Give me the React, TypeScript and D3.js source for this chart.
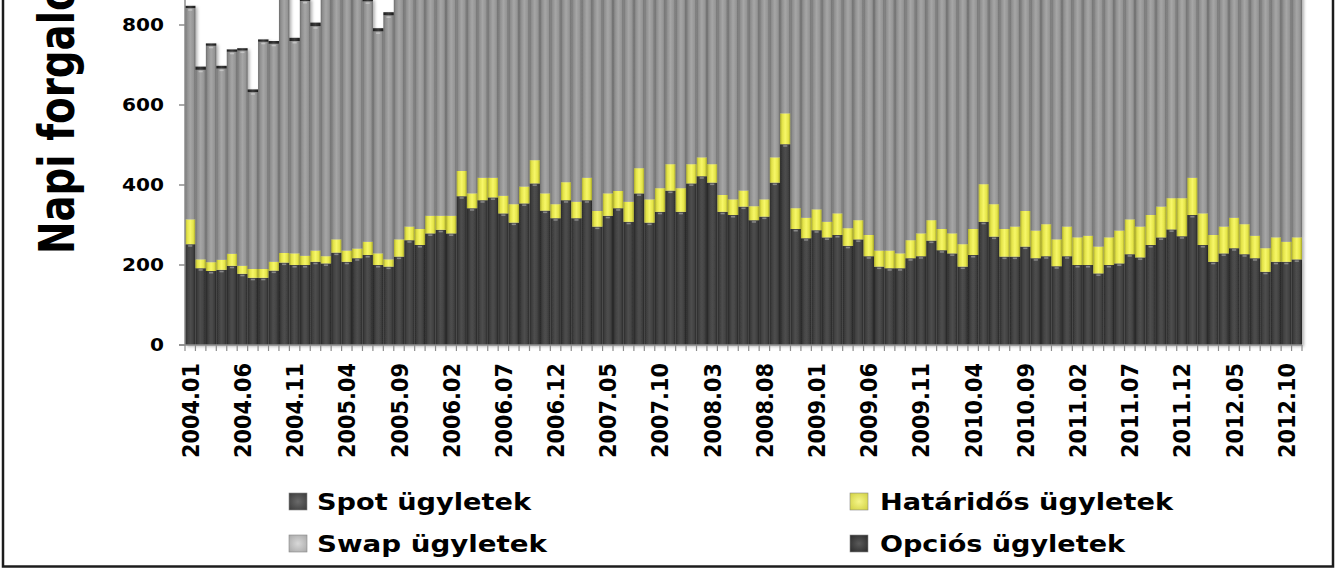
import React from 'react';
import * as d3 from 'd3';

// Categories: monthly, 2004.01 – 2012.11
const START_YEAR = 2004;
const N_MONTHS = 107;
const months: string[] = Array.from({ length: N_MONTHS }, (_, i) =>
  `${START_YEAR + Math.floor(i / 12)}.${String((i % 12) + 1).padStart(2, '0')}`
);

// Series values
const spot = [
  252, 192, 185, 188, 198, 178, 168, 168, 186, 206, 200, 200, 208, 204, 231, 208, 217, 225, 200, 196,
  221, 262, 250, 279, 288, 279, 372, 342, 362, 369, 329, 306, 354, 404, 336, 317, 362, 317, 362, 296,
  323, 342, 308, 379, 306, 333, 386, 333, 404, 422, 406, 333, 325, 346, 312, 321, 406, 502, 290, 267,
  287, 269, 275, 248, 264, 222, 196, 192, 192, 217, 222, 261, 237, 229, 196, 225, 308, 271, 221, 221,
  246, 217, 222, 197, 222, 200, 200, 179, 200, 204, 227, 219, 250, 269, 289, 272, 325, 250, 208, 229,
  242, 227, 217, 183, 208, 208, 214,
];
const forward = [
  62, 22, 22, 25, 30, 20, 22, 22, 22, 24, 29, 23, 28, 18, 33, 28, 24, 33, 29, 18,
  43, 34, 40, 44, 35, 44, 63, 37, 56, 49, 44, 46, 42, 58, 43, 35, 45, 41, 56, 39,
  56, 43, 50, 63, 58, 59, 66, 59, 48, 47, 46, 42, 39, 40, 35, 43, 63, 77, 52, 51,
  52, 39, 54, 44, 48, 53, 40, 44, 37, 45, 57, 51, 53, 50, 56, 65, 94, 81, 69, 75,
  89, 69, 80, 67, 74, 69, 73, 67, 69, 82, 87, 77, 75, 77, 78, 95, 93, 79, 67, 67,
  76, 75, 56, 59, 61, 50, 55,
];
const swap = [
  528, 474, 541, 478, 505, 538, 442, 568, 545, 663, 531, 637, 561, 701, 689, 737, 702, 601, 555, 610,
  720, 700, 760, 740, 790, 810, 850, 880, 900, 870, 920, 940, 960, 990, 1010, 980, 1040, 1060, 1100, 1080,
  1120, 1150, 1130, 1170, 1140, 1190, 1210, 1180, 1230, 1250, 1200, 1160, 1120, 1090, 1060, 1030, 1000, 960, 900, 860,
  880, 840, 870, 850, 890, 910, 880, 900, 930, 950, 970, 990, 1010, 980, 1020, 1040, 1060, 1030, 1050, 1080,
  1100, 1070, 1090, 1110, 1130, 1100, 1120, 1090, 1080, 1060, 1040, 1020, 1000, 980, 1010, 990, 1030, 1000, 970, 990,
  960, 940, 920, 900, 930, 910, 890,
];
const options = [
  6, 8, 6, 7, 6, 6, 7, 6, 7, 7, 8, 6, 9, 7, 7, 7, 7, 7, 8, 8,
  9, 10, 10, 11, 12, 12, 13, 14, 14, 15, 15, 16, 16, 17, 17, 18, 18, 18, 19, 19,
  20, 20, 21, 21, 22, 22, 22, 23, 23, 24, 24, 22, 20, 18, 17, 16, 15, 14, 13, 12,
  12, 12, 13, 13, 13, 14, 14, 14, 15, 15, 15, 16, 16, 16, 17, 17, 17, 18, 18, 18,
  19, 19, 19, 20, 20, 20, 20, 19, 19, 19, 18, 18, 18, 17, 17, 17, 16, 16, 16, 15,
  15, 15, 14, 14, 14, 13, 13,
];

const seriesKeys = ['spot', 'forward', 'swap', 'options'];
const legendLabels = ['Spot ügyletek', 'Határidős ügyletek', 'Swap ügyletek', 'Opciós ügyletek'];
const yTicks = [0, 200, 400, 600, 800];
const xLabelEvery = 5;
const yTitle = 'Napi forgalom';

const W = 1339;
const H = 571;

export default function App() {
  const rows = months.map((m, i) => ({
    month: m,
    spot: spot[i],
    forward: forward[i],
    swap: swap[i],
    options: options[i],
  }));

  const x = d3.scaleBand<string>().domain(months).range([185, 1302]).padding(0);
  const y = d3.scaleLinear().domain([0, 800]).range([345, 25]);
  const stacked = d3.stack<any>().keys(seriesKeys)(rows);
  const bw = x.bandwidth();

  const gradStops: Record<string, [number, string][]> = {
    spot: [[0, '#262626'], [0.2, '#3e3e3e'], [0.5, '#4e4e4e'], [0.8, '#404040'], [1, '#242424']],
    forward: [[0, '#a9a92c'], [0.2, '#e2e248'], [0.5, '#f7f768'], [0.8, '#e4e448'], [1, '#a2a228']],
    swap: [[0, '#6c6c6c'], [0.18, '#8e8e8e'], [0.5, '#a6a6a6'], [0.82, '#959595'], [1, '#686868']],
    options: [[0, '#1e1e1e'], [0.5, '#3c3c3c'], [1, '#1c1c1c']],
  };

  const legendItems = [
    { key: 'spot', label: legendLabels[0], mx: 289, ty: 510, tx: 317, tl: 214, fill: 'url(#lg-spot)' },
    { key: 'swap', label: legendLabels[2], mx: 289, ty: 552, tx: 317, tl: 230, fill: 'url(#lg-swap)' },
    { key: 'forward', label: legendLabels[1], mx: 850, ty: 510, tx: 880, tl: 293, fill: 'url(#lg-forward)' },
    { key: 'options', label: legendLabels[3], mx: 850, ty: 552, tx: 880, tl: 245, fill: 'url(#lg-options)' },
  ];

  const legendColors: Record<string, [string, string]> = {
    spot: ['#6a6a6a', '#3a3a3a'],
    swap: ['#d8d8d8', '#a8a8a8'],
    forward: ['#f6f68a', '#d0d040'],
    options: ['#5a5a5a', '#2a2a2a'],
  };

  const boundaries = [...months.map((m) => x(m) as number), 1302];

  return (
    <svg
      width={W}
      height={H}
      style={{ position: 'absolute', left: 0, top: 0, display: 'block', background: '#ffffff' }}
      fontFamily="'DejaVu Sans', Verdana, sans-serif"
    >
      <defs>
        {seriesKeys.map((k) => (
          <linearGradient key={k} id={`g-${k}`} x1="0" x2="1" y1="0" y2="0">
            {gradStops[k].map(([o, c], j) => (
              <stop key={j} offset={o} stopColor={c} />
            ))}
          </linearGradient>
        ))}
        {Object.keys(legendColors).map((k) => (
          <radialGradient key={k} id={`lg-${k}`} cx="0.5" cy="0.5" r="0.7">
            <stop offset="0" stopColor={legendColors[k][0]} />
            <stop offset="1" stopColor={legendColors[k][1]} />
          </radialGradient>
        ))}
        <filter id="shadow" x="-5%" y="-5%" width="110%" height="110%">
          <feDropShadow dx="2" dy="1.5" stdDeviation="1.6" floodColor="#000" floodOpacity="0.3" />
        </filter>
      </defs>

      {/* outer frame */}
      <rect x={3} y={-10} width={1330} height={576.5} fill="none" stroke="#1c1c1c" strokeWidth={2.5} />

      {/* y-axis title */}
      <text
        transform={`translate(74,254) rotate(-90)`}
        fontSize={50.5}
        fontWeight="bold"
        fill="#000"
        textLength={310}
        lengthAdjust="spacingAndGlyphs"
      >
        {yTitle}
      </text>

      {/* bars */}
      <g filter="url(#shadow)">
        {stacked.map((layer) => (
          <g key={layer.key} fill={`url(#g-${layer.key})`}>
            {layer.map((d, i) => {
              const y0 = y(d[0]);
              const y1 = y(d[1]);
              return (
                <rect
                  key={i}
                  x={x(months[i]) as number}
                  y={y1}
                  width={bw}
                  height={Math.max(0, y0 - y1)}
                />
              );
            })}
          </g>
        ))}
        {/* soft bevel highlight at top of spot & swap segments */}
        {stacked.map((layer) =>
          layer.key === 'options' || layer.key === 'forward'
            ? null
            : layer.map((d, i) => (
                <rect
                  key={`${layer.key}-h-${i}`}
                  x={(x(months[i]) as number) + bw * 0.3}
                  y={y(d[1]) + 1}
                  width={bw * 0.4}
                  height={1.5}
                  fill="#ffffff"
                  opacity={0.35}
                />
              ))
        )}
      </g>

      {/* y axis */}
      <line x1={185} x2={185} y1={0} y2={345} stroke="#8c8c8c" strokeWidth={1.5} />
      {yTicks.map((t) => (
        <g key={t}>
          <line x1={179} x2={185} y1={y(t)} y2={y(t)} stroke="#8c8c8c" strokeWidth={1.5} />
          <text
            x={164}
            y={y(t)}
            dy="0.36em"
            textAnchor="end"
            fontSize={18}
            fontWeight="bold"
            fill="#000"
            textLength={String(t).length * 14}
            lengthAdjust="spacingAndGlyphs"
          >
            {t}
          </text>
        </g>
      ))}

      {/* x axis */}
      <line x1={179} x2={1302} y1={345} y2={345} stroke="#8c8c8c" strokeWidth={1.5} />
      {boundaries.map((bx, i) => (
        <line key={i} x1={bx} x2={bx} y1={345} y2={351} stroke="#8c8c8c" strokeWidth={1.2} />
      ))}
      {months.map((m, i) =>
        i % xLabelEvery === 0 ? (
          <text
            key={m}
            transform={`translate(${(x(m) as number) + bw / 2 + 8.5},363) rotate(-90)`}
            textAnchor="end"
            fontSize={23}
            fontWeight="bold"
            fill="#000"
            textLength={95}
            lengthAdjust="spacingAndGlyphs"
          >
            {m}
          </text>
        ) : null
      )}

      {/* legend */}
      {legendItems.map((it) => (
        <g key={it.key}>
          <rect
            x={it.mx}
            y={it.ty - 17}
            width={18}
            height={17}
            fill={it.fill}
            stroke="#888"
            strokeWidth={0.6}
          />
          <text
            x={it.tx}
            y={it.ty}
            fontSize={23}
            fontWeight="bold"
            fill="#000"
            textLength={it.tl}
            lengthAdjust="spacingAndGlyphs"
          >
            {it.label}
          </text>
        </g>
      ))}
    </svg>
  );
}
